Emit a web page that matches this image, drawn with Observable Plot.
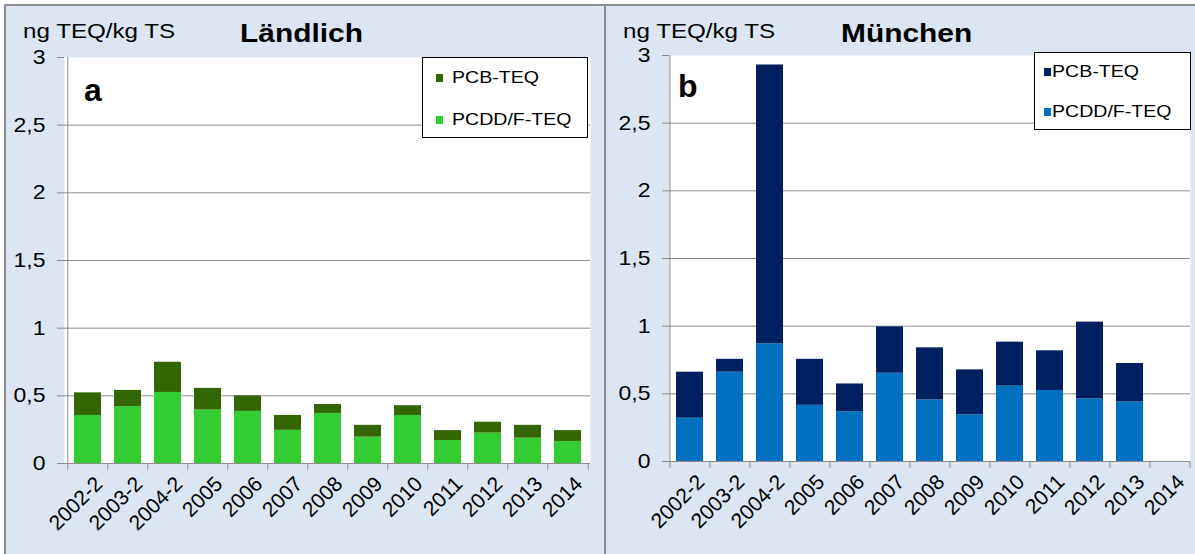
<!DOCTYPE html>
<html><head><meta charset="utf-8">
<script src="https://cdn.jsdelivr.net/npm/d3@7"></script>
<script src="https://cdn.jsdelivr.net/npm/@observablehq/plot@0.6"></script>
<style>
body{margin:0;background:#fff;font-family:"Liberation Sans",Arial,sans-serif;}
#wrap{position:relative;width:1195px;height:554px;overflow:hidden;background:#fff;}
.panel{position:absolute;background:#dce6f2;box-sizing:border-box;border:2px solid #8e8e8e;border-bottom:none;}
.panel svg{position:absolute;left:0;top:0;}
.lbl{position:absolute;white-space:nowrap;line-height:1;transform-origin:0 0;color:#000;}
.legend{position:absolute;background:#fff;border:1px solid #000;box-sizing:border-box;}
.sw{position:absolute;width:7px;height:8px;}
</style></head><body><div id="wrap"></div>
<script>
// ---- data ----
const years = ["2002-2","2003-2","2004-2","2005","2006","2007","2008","2009","2010","2011","2012","2013","2014"];
const seriesNames = ["PCB-TEQ","PCDD/F-TEQ"];
const laendlichPCDD = [0.355,0.42,0.525,0.395,0.385,0.245,0.37,0.195,0.355,0.17,0.225,0.187,0.163];
const laendlichPCB  = [0.167,0.12,0.223,0.16,0.115,0.11,0.066,0.087,0.072,0.073,0.08,0.095,0.08];
const muenchenPCDD  = [0.32,0.66,0.87,0.415,0.368,0.652,0.455,0.344,0.557,0.525,0.462,0.44,null];
const muenchenPCB   = [0.34,0.095,2.06,0.34,0.205,0.343,0.385,0.333,0.325,0.293,0.568,0.284,null];
const laendlichColors = ["#336600","#33cc33"];
const muenchenColors  = ["#002060","#0070c0"];
const yTicks = [0,0.5,1,1.5,2,2.5,3];
const gridTicks = [0.5,1,1.5,2,2.5];
const titles = ["Ländlich","München"];
const panelLetters = ["a","b"];
const yUnit = "ng TEQ/kg TS";

const FONT = '"Liberation Sans", Arial, sans-serif';
const STRETCH = 1.15;
const GRID = "#8c8c8c";

function rowsFrom(pcdd, pcb){
  const rows = [];
  years.forEach((y,i)=>{
    if (pcdd[i] != null) rows.push({year:y, series:seriesNames[1], value:pcdd[i]});
    if (pcb[i] != null) rows.push({year:y, series:seriesNames[0], value:pcb[i]});
  });
  return rows;
}

function stretchText(svg, label, s){
  svg.querySelectorAll(`[aria-label="${label}"] text`).forEach(t=>{
    const tr = t.getAttribute("transform");
    if (tr) t.setAttribute("transform", tr + ` scale(${s},1)`);
  });
}

function makePlot({rows, colors, width, height, mL, mR, mT, mB}){
  const step = (width - mL - mR) / years.length;
  const svg = Plot.plot({
    width, height, marginLeft:mL, marginRight:mR, marginTop:mT, marginBottom:mB,
    style:{background:"transparent", fontFamily:FONT, color:"#000", overflow:"visible"},
    x:{type:"band", domain:years, paddingInner:0.33, paddingOuter:0.165, axis:null, label:null},
    y:{domain:[0,3], axis:null, label:null},
    color:{domain:seriesNames, range:colors},
    marks:[
      Plot.frame({fill:"white", stroke:"none"}),
      Plot.ruleY(gridTicks, {stroke:GRID, strokeWidth:1}),
      Plot.barY(rows, {x:"year", y:"value", fill:"series"}),
      Plot.ruleY([0], {stroke:GRID}),
      Plot.ruleX([years[0]], {x:d=>d, y1:0, y2:3, dx:-step/2, stroke:GRID}),
      Plot.ruleX(years, {x:d=>d, y1:0, y2:-0.05, dx:-step/2, stroke:GRID}),
      Plot.ruleX([years[years.length-1]], {x:d=>d, y1:0, y2:-0.05, dx:step/2, stroke:GRID}),
      Plot.axisY(yTicks, {tickSize:7, tickPadding:12, stroke:GRID, fill:"#000", label:null,
        tickFormat:d=>String(d).replace(".",","), fontSize:20}),
      Plot.axisX({tickSize:0, tickPadding:0, tickRotate:-45, fontSize:21, fill:"#000", label:null, dx:11, dy:17})
    ]
  });
  stretchText(svg, "y-axis tick label", STRETCH);
  return svg;
}

const wrap = document.getElementById("wrap");

function addText(parent, txt, left, baseline, size, bold, stretch){
  const d = document.createElement("div");
  d.className = "lbl";
  d.textContent = txt;
  d.style.fontSize = size + "px";
  d.style.fontWeight = bold ? "bold" : "normal";
  d.style.left = left + "px";
  d.style.top = (baseline - 0.8465*size) + "px";
  d.style.transform = `scaleX(${stretch})`;
  parent.appendChild(d);
}

function addLegend(box, colors, items){
  const L = document.createElement("div");
  L.className = "legend";
  L.style.left = box.x + "px"; L.style.top = box.y + "px";
  L.style.width = box.w + "px"; L.style.height = box.h + "px";
  wrap.appendChild(L);
  items.forEach((it,i)=>{
    const s = document.createElement("div");
    s.className = "sw";
    s.style.left = it.sx + "px"; s.style.top = it.sy + "px";
    s.style.background = colors[i];
    wrap.appendChild(s);
    addText(wrap, seriesNames[i], it.tx, it.tb, 17, false, STRETCH);
  });
}

// panel A
const pA = document.createElement("div");
pA.className = "panel";
Object.assign(pA.style, {left:"4px", top:"4px", width:"602px", height:"560px"});
wrap.appendChild(pA);
pA.appendChild(makePlot({rows:rowsFrom(laendlichPCDD, laendlichPCB), colors:laendlichColors,
  width:598, height:548, mL:58, mR:14, mT:51, mB:91}));

// panel B
const pB = document.createElement("div");
pB.className = "panel";
Object.assign(pB.style, {left:"604px", top:"4px", width:"600px", height:"560px", borderRight:"none"});
wrap.appendChild(pB);
pB.appendChild(makePlot({rows:rowsFrom(muenchenPCDD, muenchenPCB), colors:muenchenColors,
  width:589, height:548, mL:63, mR:5, mT:49, mB:93}));

// labels
addText(wrap, yUnit, 23, 38, 21, false, STRETCH);
addText(wrap, titles[0], 240, 42, 26, true, STRETCH);
addText(wrap, panelLetters[0], 84, 101, 32, true, 1);
addText(wrap, yUnit, 623, 38, 21, false, STRETCH);
addText(wrap, titles[1], 841, 42, 26, true, STRETCH);
addText(wrap, panelLetters[1], 678, 97, 32, true, 1);

addLegend({x:422, y:57, w:166, h:81}, laendlichColors, [
  {sx:436, sy:74, tx:452, tb:83},
  {sx:436, sy:116, tx:452, tb:125}
]);
addLegend({x:1034, y:52, w:157, h:78}, muenchenColors, [
  {sx:1044, sy:68, tx:1052, tb:77},
  {sx:1044, sy:108, tx:1052, tb:117}
]);
</script></body></html>
